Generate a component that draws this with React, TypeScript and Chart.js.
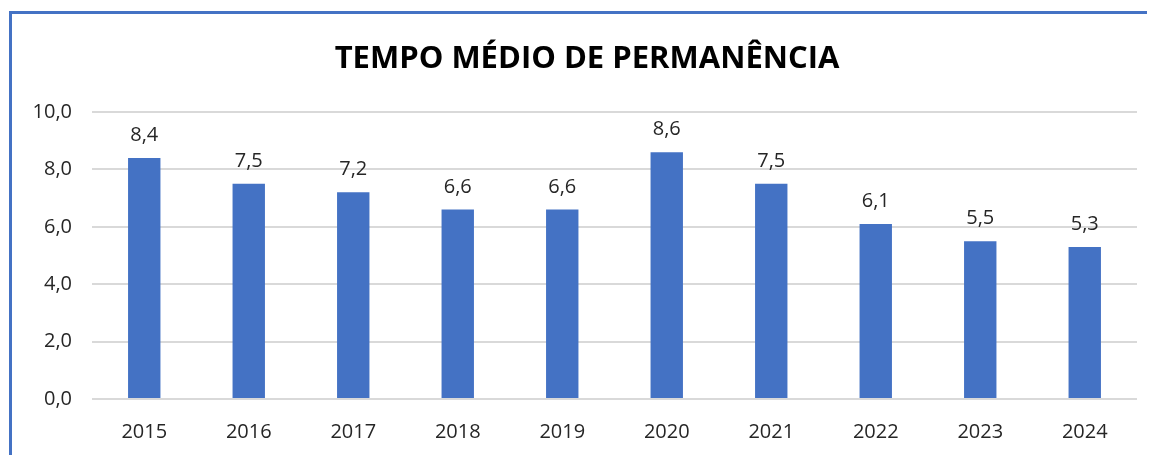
import React, { useEffect, useRef } from "react";
import { Chart, registerables } from "chart.js";

Chart.register(...registerables);

const chartTitle = "TEMPO MÉDIO DE PERMANÊNCIA";
const years = ["2015", "2016", "2017", "2018", "2019", "2020", "2021", "2022", "2023", "2024"];
const avgStay = [8.4, 7.5, 7.2, 6.6, 6.6, 8.6, 7.5, 6.1, 5.5, 5.3];
const yTicks = [0, 2, 4, 6, 8, 10];

const fmt = (v: number) => v.toFixed(1).replace(".", ",");
const FONT = "'Open Sans', 'Noto Sans', sans-serif";
const TEXT = "#262626";

const labelPlugin = {
  id: "barLabels",
  afterDatasetsDraw(chart: any) {
    const ctx = chart.ctx;
    const meta = chart.getDatasetMeta(0);
    ctx.save();
    ctx.font = `20px ${FONT}`;
    ctx.fillStyle = TEXT;
    ctx.textAlign = "center";
    ctx.textBaseline = "alphabetic";
    meta.data.forEach((el: any, i: number) => {
      ctx.fillText(fmt(avgStay[i]), el.x, el.y - 17);
    });
    ctx.restore();
  },
};

const titlePlugin = {
  id: "customTitle",
  afterDraw(chart: any) {
    const ctx = chart.ctx;
    ctx.save();
    ctx.font = `bold 31px ${FONT}`;
    ctx.fillStyle = "#000000";
    ctx.textAlign = "center";
    ctx.textBaseline = "middle";
    ctx.fillText(chartTitle, 575, 45);
    ctx.restore();
  },
};

export default function App() {
  const ref = useRef<HTMLCanvasElement | null>(null);
  useEffect(() => {
    if (!ref.current) return;
    const chart = new Chart(ref.current, {
      type: "bar",
      data: {
        labels: years,
        datasets: [
          {
            data: avgStay,
            backgroundColor: "#4472C4",
            borderColor: "#4472C4",
            barPercentage: 0.31,
            categoryPercentage: 1,
          },
        ],
      },
      options: {
        animation: false,
        responsive: false,
        maintainAspectRatio: false,
        layout: { padding: { top: 98, right: 10, bottom: 0, left: 0 } },
        plugins: {
          legend: { display: false },
          title: { display: false },
          tooltip: { enabled: false },
        },
        scales: {
          x: {
            grid: { display: false, drawTicks: false },
            border: { display: false },
            ticks: {
              color: TEXT,
              font: { family: FONT, size: 20 },
              padding: 21,
              maxRotation: 0,
            },
            afterFit: (s: any) => {
              s.height = 50;
            },
          },
          y: {
            min: 0,
            max: 10,
            afterBuildTicks: (s: any) => {
              s.ticks = yTicks.map((v) => ({ value: v }));
            },
            grid: { color: "#d9d9d9", lineWidth: 2, drawTicks: false },
            border: { display: false },
            ticks: {
              color: TEXT,
              font: { family: FONT, size: 20 },
              padding: 20,
              callback: (v: any) => fmt(Number(v)),
            },
            afterFit: (s: any) => {
              s.width = 80;
            },
          },
        },
      },
      plugins: [labelPlugin, titlePlugin],
    });
    return () => chart.destroy();
  }, []);

  return (
    <div
      style={{
        position: "relative",
        width: 1145,
        height: 441,
        marginLeft: 1,
        marginTop: 3,
        borderLeft: "3px solid #4472C4",
        borderTop: "3px solid #4472C4",
        background: "#ffffff",
      }}
    >
      <canvas ref={ref} width={1135} height={435} style={{ display: "block" }} />
    </div>
  );
}
